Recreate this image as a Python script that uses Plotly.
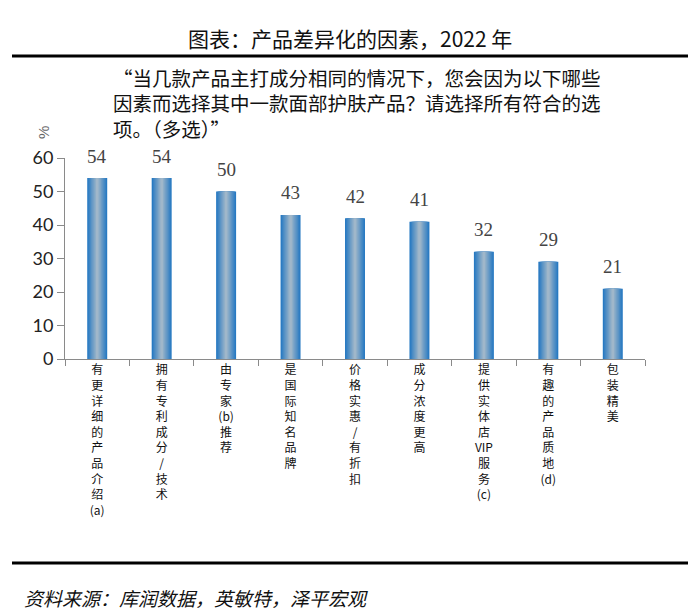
import plotly.graph_objects as go

categories = [
    "有更详细的产品介绍(a)",
    "拥有专利成分/技术",
    "由专家(b)推荐",
    "是国际知名品牌",
    "价格实惠/有折扣",
    "成分浓度更高",
    "提供实体店VIP服务(c)",
    "有趣的产品质地(d)",
    "包装精美",
]
tick_chars = [
    ["有", "更", "详", "细", "的", "产", "品", "介", "绍", "(a)"],
    ["拥", "有", "专", "利", "成", "分", "/", "技", "术"],
    ["由", "专", "家", "(b)", "推", "荐"],
    ["是", "国", "际", "知", "名", "品", "牌"],
    ["价", "格", "实", "惠", "/", "有", "折", "扣"],
    ["成", "分", "浓", "度", "更", "高"],
    ["提", "供", "实", "体", "店", "VIP", "服", "务", "(c)"],
    ["有", "趣", "的", "产", "品", "质", "地", "(d)"],
    ["包", "装", "精", "美"],
]
values = [54, 54, 50, 43, 42, 41, 32, 29, 21]
y_ticks = [0, 10, 20, 30, 40, 50, 60]

W, H = 700, 616
L, R, T, B = 65, 55, 158, 257
PW, PH = W - L - R, H - T - B


def px(x):
    return (x - L) / PW


def py(y):
    return (H - B - y) / PH


fig = go.Figure()

# cylinder-like gradient via overlaid bars of shrinking width
edge = (40, 122, 194)
center = (160, 183, 202)
n = 8
for i in range(n):
    t = i / (n - 1)
    c = tuple(int(edge[k] + (center[k] - edge[k]) * t) for k in range(3))
    w = 0.31 - i * (0.31 - 0.04) / (n - 1)
    fig.add_trace(go.Bar(
        x=categories, y=values, width=w,
        marker=dict(color="rgb(%d,%d,%d)" % c, line=dict(width=0)),
        hoverinfo="skip", showlegend=False,
    ))

for c, v in zip(categories, values):
    fig.add_annotation(
        x=c, y=v, xref="x", yref="y", text=str(v), showarrow=False,
        yshift=22, font=dict(family="Liberation Serif", size=19, color="#444"),
    )

fig.update_layout(
    width=W, height=H,
    margin=dict(l=L, r=R, t=T, b=B),
    paper_bgcolor="white", plot_bgcolor="white",
    barmode="overlay",
    font=dict(family="Noto Sans CJK SC"),
    xaxis=dict(
        type="category",
        tickmode="array",
        tickvals=categories,
        ticktext=["<br>".join(ch) for ch in tick_chars],
        tickson="boundaries",
        ticks="outside", ticklen=6, tickcolor="#8a8a8a", tickwidth=1,
        showline=True, linecolor="#8a8a8a", linewidth=1,
        showgrid=False, zeroline=False,
        tickfont=dict(family="Noto Sans CJK SC", size=12, color="#111"),
        tickangle=0,
    ),
    yaxis=dict(
        range=[0, 60], tickvals=y_ticks,
        ticks="outside", ticklen=7, tickcolor="#8a8a8a", tickwidth=1,
        showline=True, linecolor="#8a8a8a", linewidth=1,
        showgrid=False, zeroline=False,
        tickfont=dict(family="Lato", size=18, color="#222"),
    ),
)

# title
fig.add_annotation(
    x=px(350), y=py(38), xref="paper", yref="paper", showarrow=False,
    text="图表：产品差异化的因素，2022 年",
    font=dict(family="Noto Sans CJK SC", size=21, color="#111"),
    xanchor="center", yanchor="middle",
)
# top rule
fig.add_shape(type="line", xref="paper", yref="paper",
              x0=px(12), x1=px(688), y0=py(56), y1=py(56),
              line=dict(color="#000", width=3))
# subtitle (one multi-line block)
sub_lines = [
    "“当几款产品主打成分相同的情况下，您会因为以下哪些",
    "因素而选择其中一款面部护肤产品？请选择所有符合的选",
    "项。（多选）”",
]
fig.add_annotation(
    x=px(111), y=py(103), xref="paper", yref="paper", showarrow=False,
    text="<br>".join(sub_lines), xanchor="left", yanchor="middle", align="left",
    font=dict(family="Noto Sans CJK SC", size=19.5, color="#111"),
)
# unit
fig.add_annotation(
    x=px(43), y=py(133), xref="paper", yref="paper", showarrow=False,
    text="%", textangle=-90, xanchor="center", yanchor="middle",
    font=dict(family="Liberation Sans", size=15, color="#666"),
)
# bottom rule
fig.add_shape(type="line", xref="paper", yref="paper",
              x0=px(12), x1=px(688), y0=py(563), y1=py(563),
              line=dict(color="#000", width=3))
# source
fig.add_annotation(
    x=px(22), y=py(597), xref="paper", yref="paper", showarrow=False,
    text="<i>资料来源：库润数据，英敏特，泽平宏观</i>", xanchor="left", yanchor="middle",
    align="left",
    font=dict(family="Noto Sans CJK SC", size=19, color="#111"),
)

fig.write_html("out.html", config={"displayModeBar": False},
               post_script="document.body.style.margin='0';")
